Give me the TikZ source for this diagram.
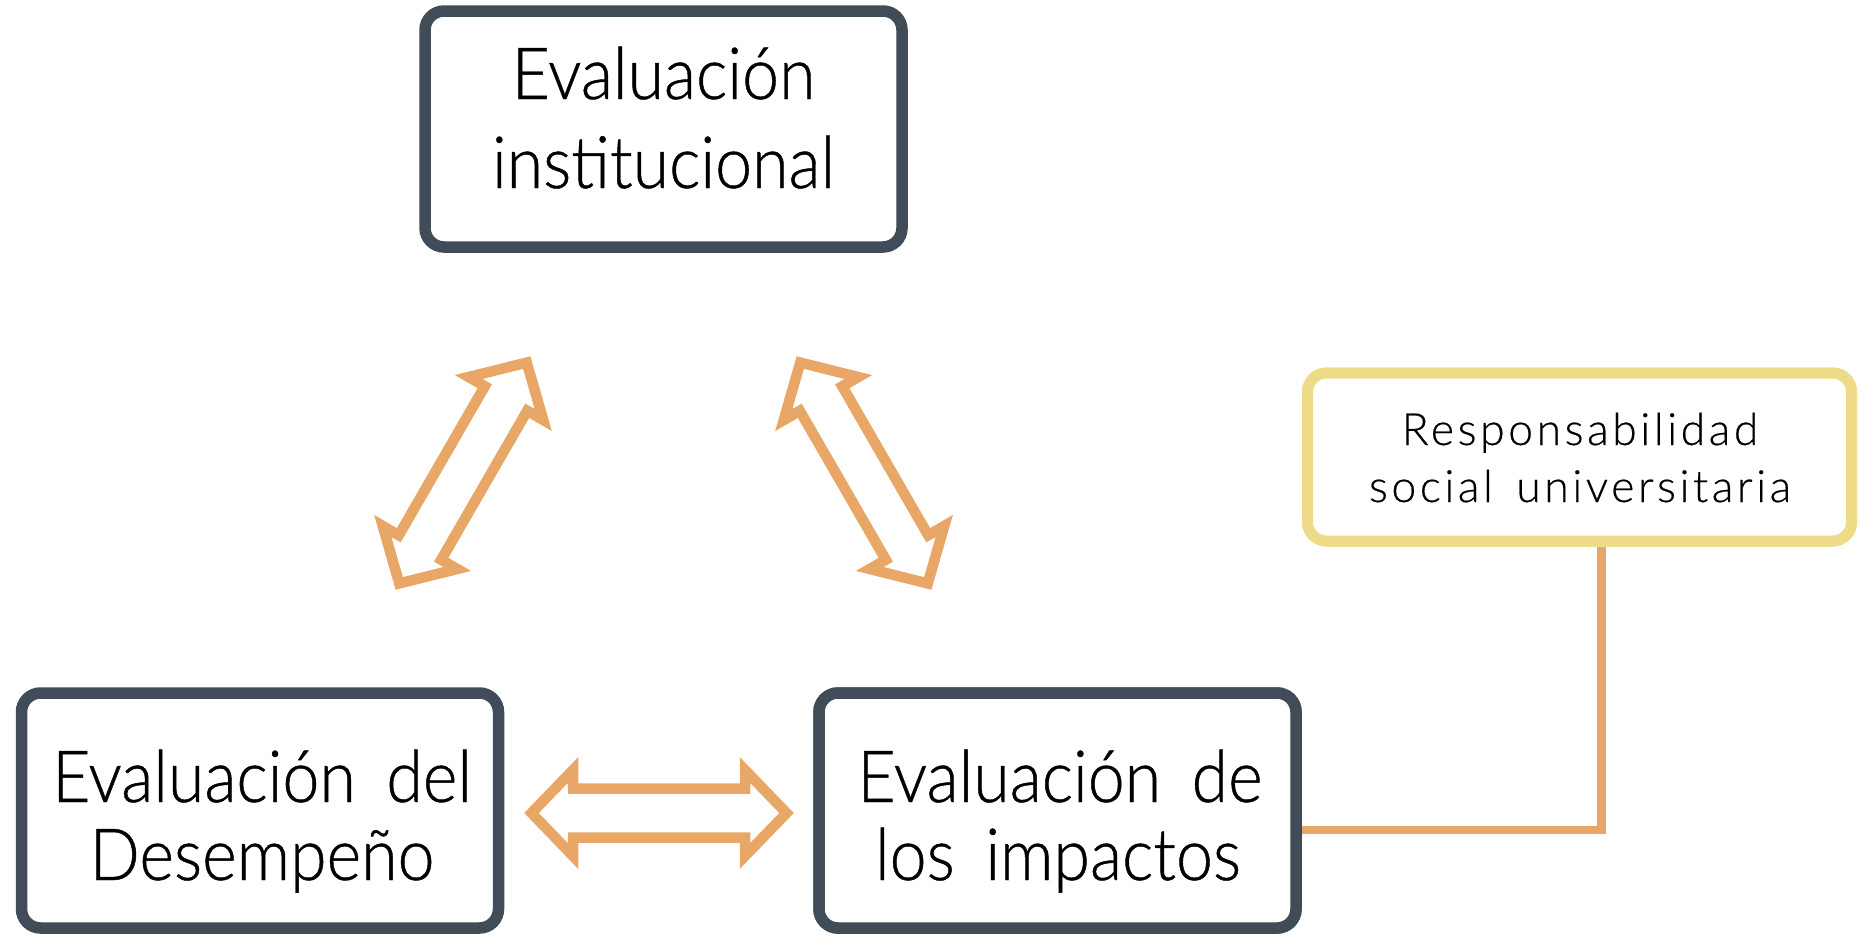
\documentclass[tikz,border=0pt]{standalone}
\usepackage{fontspec}
\setmainfont{Lato}
\IfFontExistsTF{Lato Light}{%
  \newfontfamily\bigfont[FakeStretch=0.92,WordSpace=1.7,FakeBold=0.6]{Lato Light}%
  \newfontfamily\respfont[LetterSpace=8,WordSpace=1.5,FakeBold=0.4]{Lato Light}%
}{%
  \newfontfamily\bigfont[FakeStretch=0.92,WordSpace=1.7]{Lato}%
  \newfontfamily\respfont[LetterSpace=8,WordSpace=1.5]{Lato}%
}
\definecolor{darkline}{HTML}{404C57}
\definecolor{orangeline}{HTML}{E9A767}
\definecolor{yellowline}{HTML}{EEDB88}
\begin{document}
\begin{tikzpicture}[x=1pt,y=-1pt,
  box/.style={draw=darkline, line width=11.5pt, rounded corners=19pt, fill=white, inner sep=0pt},
  ybox/.style={draw=yellowline, line width=11pt, rounded corners=19pt, fill=white, inner sep=0pt},
  bigtxt/.style={font=\bigfont\fontsize{72}{80}\selectfont, anchor=base, inner sep=0pt},
  smalltxt/.style={font=\respfont\fontsize{44.5}{50}\selectfont, anchor=base, inner sep=0pt},
  arr/.style={draw=orangeline, line width=10.5pt},
  conn/.style={draw=orangeline, line width=8.5pt},
  hollow/.pic={\draw[arr] (-127.5,0) -- (-86,-43) -- (-86,-24.5) -- (86,-24.5) -- (86,-43) -- (127.5,0) -- (86,43) -- (86,24.5) -- (-86,24.5) -- (-86,43) -- cycle;}
]
\useasboundingbox (0,0) rectangle (1873,937);
\node[ybox, minimum width=544pt, minimum height=168pt] (resp) at (1579.5,457) {};
\node[box, minimum width=477pt, minimum height=235pt] (impact) at (1057.5,810.5) {};
\draw[conn] ([xshift=22pt]resp.south) |- ([yshift=-19.5pt]impact.east);
\node[ybox, minimum width=544pt, minimum height=168pt] (resp2) at (1579.5,457) {};
\node[box, minimum width=477pt, minimum height=235pt] (impact2) at (1057.5,810.5) {};
\node[box, minimum width=477pt, minimum height=236pt] (inst) at (663.5,129) {};
\node[box, minimum width=477pt, minimum height=235pt] (desem) at (260,810.5) {};
% texts
\node[bigtxt] (t1) at (663.5,99) {Evaluación};
\node[bigtxt] (t2) at (663.5,188) {institucional};
\node[bigtxt] (t3) at (262,802) {Evaluación del};
\node[bigtxt] (t4) at (262,880) {Desempeño};
\node[bigtxt] (t5) at (1060,802) {Evaluación de};
\node[bigtxt] (t6) at (1058,880) {los impactos};
\node[smalltxt] (t7) at (1580,445) {Responsabilidad};
\node[smalltxt] (t8) at (1580,502) {social universitaria};
% hollow double arrows
\pic[rotate=60] (a1) at (463,473) {hollow};
\pic[rotate=-60] (a2) at (864,473) {hollow};
\pic (a3) at (659,813) {hollow};
\end{tikzpicture}
\end{document}
